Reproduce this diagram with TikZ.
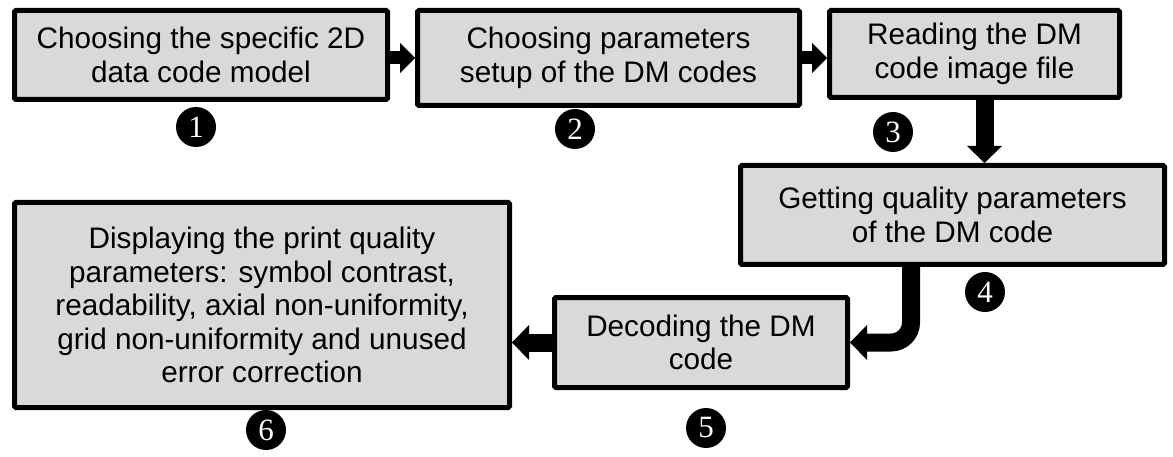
\documentclass[tikz,border=0pt]{standalone}
\usepackage{fontspec}
\setmainfont{Liberation Sans}
\newfontfamily\numfont{Liberation Serif}
\usetikzlibrary{arrows.meta,calc}
\definecolor{boxgray}{HTML}{D9D9D9}
\tikzset{
  stepbox/.style={draw=black, line width=5pt, fill=boxgray, rounded corners=1.5pt,
    align=center, inner sep=0pt, outer sep=2.5pt,
    font=\fontsize{29.7}{33.5}\selectfont},
  numc/.style={circle, fill=black, text=white, minimum size=40pt, inner sep=0pt,
    font=\numfont\fontsize{31}{31}\selectfont},
  thinflow/.style={line width=13pt, -{Triangle[width=30pt,length=15pt,line width=0pt]}},
  thickflow/.style={line width=18pt, -{Triangle[width=35pt,length=17pt,line width=0pt]}},
}
\begin{document}
\begin{tikzpicture}[x=1pt, y=-1pt]
  \useasboundingbox (0,0) rectangle (1173,457);

  % process steps
  \node[stepbox, minimum width=373pt, minimum height=89pt] (b1) at (201,55)
    {Choosing the specific 2D\\data code model};
  \node[stepbox, minimum width=382pt, minimum height=95pt] (b2) at (608.5,58)
    {Choosing parameters\\setup of the DM codes};
  \node[stepbox, minimum width=290pt, minimum height=87pt] (b3) at (974.5,54)
    {Reading the DM\\code image file};
  \node[stepbox, minimum width=424pt, minimum height=99pt] (b4) at (952.5,215)
    {Getting quality parameters\\of the DM code};
  \node[stepbox, minimum width=293pt, minimum height=90pt] (b5) at (701,342.5)
    {Decoding the DM\\code};
  \node[stepbox, minimum width=495pt, minimum height=205pt] (b6) at (262,305)
    {Displaying the print quality\\parameters: symbol contrast,\\readability, axial non-uniformity,\\grid non-uniformity and unused\\error correction};

  % step numbers
  \node[numc] (n1) at (196,127) {1};
  \node[numc] (n2) at (575,129) {2};
  \node[numc] (n3) at (893,132) {3};
  \node[numc] (n4) at (985,292) {4};
  \node[numc] (n5) at (706,428) {5};
  \node[numc] (n6) at (266,430) {6};

  % flow arrows
  \draw[thinflow] (b2.west -| b1.east) -- (b2.west);
  \draw[thinflow] (b2.east) -- (b2.east -| b3.west);
  \coordinate (d3) at ([xshift=10pt]b3.south);
  \draw[thickflow] (d3) -- (d3 |- b4.north);
  \coordinate (d4) at (911,0);
  \draw[thickflow, rounded corners=20pt] (d4 |- b4.south) |- (b5.east);
  \draw[thickflow] (b5.west) -- (b5.west -| b6.east);
\end{tikzpicture}
\end{document}
